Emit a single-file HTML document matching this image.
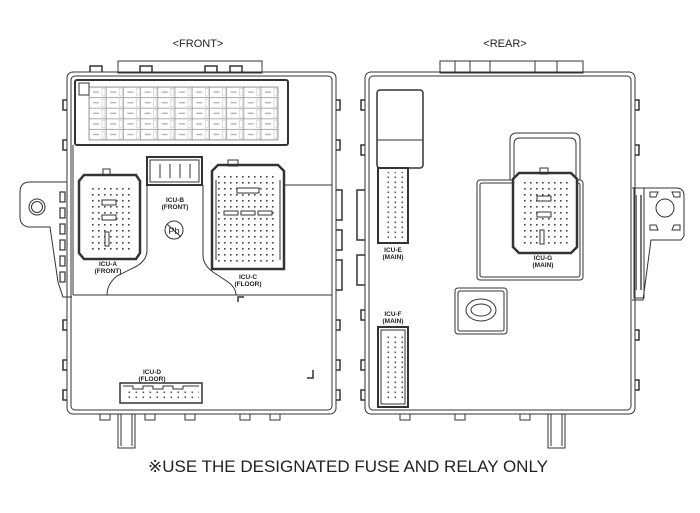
<!DOCTYPE html>
<html><head><meta charset="utf-8"><style>
html,body{margin:0;padding:0;background:#fff}
svg{display:block}
text{font-family:"Liberation Sans",sans-serif;fill:#222}
.l{font-size:6.5px;font-weight:bold;text-anchor:middle}
</style></head><body>
<svg width="700" height="513" viewBox="0 0 700 513" xmlns="http://www.w3.org/2000/svg">
<defs>
<pattern id="dots" width="6" height="6" patternUnits="userSpaceOnUse"><rect x="2" y="2" width="1.6" height="1.6" fill="#444"/></pattern>
<pattern id="dots2" width="7" height="5" patternUnits="userSpaceOnUse"><rect x="2.5" y="1.5" width="1.6" height="1.6" fill="#555"/></pattern>
<pattern id="grid" width="17.2" height="10.6" x="89" y="87" patternUnits="userSpaceOnUse"><rect x="0" y="0" width="17.2" height="10.6" fill="none" stroke="#777" stroke-width="0.6"/><rect x="13" y="1.5" width="3" height="7.5" fill="none" stroke="#bbb" stroke-width="0.5"/><rect x="4" y="4.5" width="6" height="1.2" fill="#aaa"/></pattern>
</defs>
<g fill="none" stroke="#333" stroke-width="1">
<text x="198" y="47" style="font-size:11px;text-anchor:middle;stroke:none">&lt;FRONT&gt;</text>
<text x="505" y="47" style="font-size:11px;text-anchor:middle;stroke:none">&lt;REAR&gt;</text>

<!-- FRONT -->
<rect x="118" y="61" width="144" height="12"/>
<rect x="67" y="72" width="269" height="342" rx="6"/>
<rect x="71" y="76" width="261" height="334" rx="4"/>
<rect x="75" y="80" width="213" height="65" rx="2" stroke-width="2"/>
<rect x="89" y="87" width="189" height="53" fill="url(#grid)" stroke="#666" stroke-width="0.6"/>
<rect x="79" y="83" width="10" height="12"/>
<g stroke-width="1.5">
<path d="M67 100h-4v10h4M67 140h-4v10h4M67 320h-4v10h4M67 360h-4v10h4M67 390h-4v10h4"/>
<path d="M336 100h4v10h-4M336 140h4v10h-4M336 190h6v30h-6M336 230h6v20h-6M336 260h6v30h-6M336 320h4v10h-4M336 360h4v10h-4M336 390h4v10h-4"/>
<path d="M90 72v-6h12v6M140 72v-6h12v6M205 72v-6h12v6M230 72v-6h12v6"/>
</g>
<path d="M73 295H332"/>
<path d="M73 145V295M332 145V295"/>
<path d="M147 185v65q0 10 -10 16l-20 10q-10 8 -10 19"/>
<path d="M203 185v70q0 10 10 17l15 10q8 6 8 13"/>
<path d="M147 185h56"/>
<path d="M284 185H332"/>
<path d="M67 182H30q-10 0 -10 10v25q0 8 8 10h22l8 55 5 15h9"/>
<circle cx="37" cy="207" r="8"/><circle cx="37" cy="207" r="5.5"/>
<g stroke-width="1.2"><rect x="60" y="192" width="5" height="10"/><rect x="60" y="208" width="5" height="10"/><rect x="60" y="224" width="5" height="10"/><rect x="60" y="240" width="5" height="10"/><rect x="60" y="256" width="5" height="10"/><rect x="60" y="272" width="5" height="10"/></g>
<!-- ICU-A -->
<path d="M84 175h52l4 6v72l-4 6h-52l-5-6v-72z" stroke-width="2.5"/>
<rect x="103" y="169" width="7" height="6"/>
<rect x="88" y="185" width="44" height="65" fill="url(#dots)" stroke="none"/>
<rect x="102" y="200" width="14" height="5" fill="#fff"/><rect x="102" y="215" width="14" height="5" fill="#fff"/><rect x="105" y="232" width="4" height="14" fill="#fff"/>
<!-- ICU-B -->
<rect x="147" y="157" width="55" height="28" stroke-width="2"/>
<rect x="150" y="160" width="49" height="22"/>
<path d="M160 164v14M170 164v14M180 164v14M190 164v14"/>
<circle cx="174" cy="230" r="9"/><text x="174" y="234" style="font-size:9px;text-anchor:middle;stroke:none">Pb</text><path d="M167 224l14 13"/>
<!-- ICU-C -->
<path d="M218 165h60l6 6v98h-72v-98z" stroke-width="2.5"/>
<rect x="228" y="160" width="10" height="6"/>
<rect x="218" y="172" width="60" height="92" fill="url(#dots)" stroke="none"/>
<rect x="237" y="188" width="22" height="5" fill="#fff"/>
<rect x="224" y="211" width="14" height="4" fill="#fff"/><rect x="241" y="211" width="14" height="4" fill="#fff"/><rect x="258" y="211" width="14" height="4" fill="#fff"/>
<path d="M216 180v80M280 180v80"/>
<!-- ICU-D -->
<path d="M120 383h82v20h-82z" stroke-width="1.5"/>
<path d="M123 386h10v3h10v-3h10v3h10v-3h10v3h10v-3h16"/>
<rect x="123" y="391" width="76" height="9" fill="url(#dots2)" stroke="none"/>
<path d="M238 302v-5h6M313 370v8h-6" stroke-width="1.5"/>
<path d="M118 414v34h17v-34"/>
<path d="M121 414v32M132 414v32"/>
<path d="M100 414v6h10v-6M145 414v6h10v-6M185 414v6h10v-6M240 414v6h10v-6M270 414v6h10v-6"/>
<text class="l" x="108" y="266" stroke="none">ICU-A</text><text class="l" x="108" y="273" stroke="none">(FRONT)</text>
<text class="l" x="175" y="202" stroke="none">ICU-B</text><text class="l" x="175" y="209" stroke="none">(FRONT)</text>
<text class="l" x="248" y="279" stroke="none">ICU-C</text><text class="l" x="248" y="286" stroke="none">(FLOOR)</text>
<text class="l" x="152" y="374" stroke="none">ICU-D</text><text class="l" x="152" y="381" stroke="none">(FLOOR)</text>

<!-- REAR -->
<rect x="440" y="61" width="143" height="12"/>
<path d="M455 61v12M470 61v12M490 61v12M535 61v12M557 61v12"/>
<rect x="365" y="72" width="270" height="342" rx="6"/>
<rect x="369" y="76" width="262" height="334" rx="4"/>
<rect x="377" y="90" width="46" height="78" rx="3" stroke-width="1.5"/>
<path d="M377 140h46"/>
<g stroke-width="1.5">
<path d="M365 100h-4v10h4M365 145h-4v10h4M365 310h-4v10h4M365 360h-4v10h4M365 390h-4v10h4"/>
<path d="M365 190h-8v50h8M365 255h-8v30h8"/>
<path d="M635 100h4v10h-4M635 145h4v10h-4M635 330h4v10h-4M635 380h4v10h-4"/>
</g>
<!-- ICU-E -->
<path d="M378 168h30v75h-30z" stroke-width="2" fill="#fff"/>
<rect x="384" y="172" width="20" height="66" fill="url(#dots2)" stroke="none"/>
<text class="l" x="393" y="252" stroke="none">ICU-E</text><text class="l" x="393" y="259" stroke="none">(MAIN)</text>
<!-- ICU-G -->
<path d="M510 180v-40q0-7 7-7h56q7 0 7 7v40"/>
<path d="M514 180v-36q0-6 6-6h50q6 0 6 6v36"/>
<rect x="477" y="180" width="106" height="100" rx="3"/>
<rect x="480" y="183" width="100" height="94" rx="2"/>
<path d="M519 173h52l6 6v68l-6 6h-52l-6-6v-68z" stroke-width="2.5" fill="#fff"/>
<rect x="540" y="168" width="8" height="6"/>
<rect x="520" y="182" width="48" height="65" fill="url(#dots)" stroke="none"/>
<rect x="537" y="196" width="14" height="5" fill="#fff"/><rect x="537" y="212" width="14" height="5" fill="#fff"/><rect x="540" y="230" width="4" height="14" fill="#fff"/>
<text class="l" x="543" y="260" stroke="none">ICU-G</text><text class="l" x="543" y="267" stroke="none">(MAIN)</text>
<rect x="455" y="288" width="52" height="46" rx="3"/>
<rect x="458" y="291" width="46" height="40" rx="2"/>
<ellipse cx="481" cy="310" rx="15" ry="11"/><ellipse cx="481" cy="310" rx="10" ry="6"/>
<!-- ICU-F -->
<text class="l" x="393" y="316" stroke="none">ICU-F</text><text class="l" x="393" y="323" stroke="none">(MAIN)</text>
<rect x="378" y="327" width="30" height="80" stroke-width="2"/>
<rect x="381" y="330" width="24" height="74"/>
<rect x="387" y="333" width="16" height="68" fill="url(#dots2)" stroke="none"/>
<!-- right bracket -->
<path d="M632 188h44q8 0 8 8v40l-3 4h-30l-8 60h-11"/>
<rect x="634" y="188" width="10" height="110"/>
<path d="M636 195v95M641 195v95" stroke="#777" stroke-width="2"/>
<circle cx="665" cy="208" r="9"/>
<path d="M650 192h8l-2 5h-6zM680 192h-8l2 5h6zM650 230h8l-2-5h-6zM680 230h-8l2-5h6z"/>
<path d="M548 414v34h17v-34M551 414v32M562 414v32"/>
<path d="M400 414v6h10v-6M455 414v6h10v-6M520 414v6h10v-6"/>
</g>
<text x="348" y="472" textLength="400" lengthAdjust="spacingAndGlyphs" style="font-size:17px;text-anchor:middle">※USE THE  DESIGNATED  FUSE  AND RELAY  ONLY</text>
</svg>
</body></html>
